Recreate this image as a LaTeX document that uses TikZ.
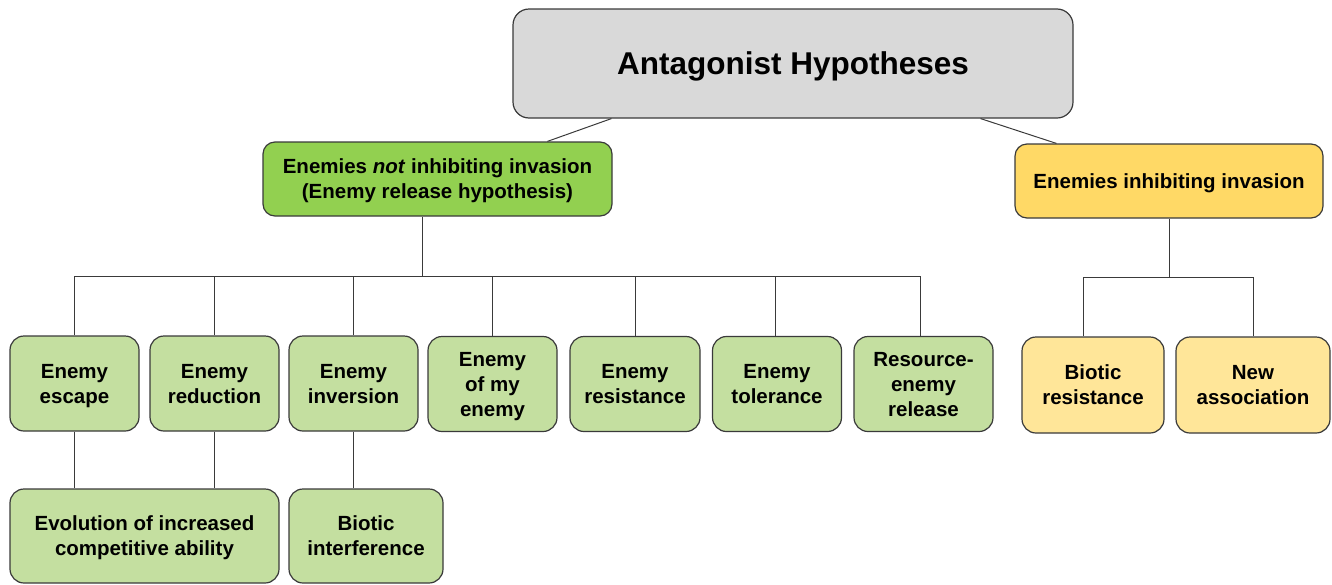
\documentclass[tikz,border=0pt]{standalone}
\usepackage{fontspec}
\setmainfont{Liberation Sans}
\definecolor{bord}{HTML}{3A3A3A}
\definecolor{linec}{HTML}{3A3A3A}
\definecolor{greyfill}{HTML}{D9D9D9}
\definecolor{topgreen}{HTML}{92D050}
\definecolor{leafgreen}{HTML}{C4DFA0}
\definecolor{topyellow}{HTML}{FFD966}
\definecolor{leafyellow}{HTML}{FFE699}
\begin{document}
\begin{tikzpicture}[x=1pt,y=-1pt,
  box/.style={draw=bord, line width=1.2pt, rounded corners=14pt, align=center, inner sep=0pt,
    text depth=0pt, font=\fontsize{20.5}{25}\selectfont\bfseries},
  gleaf/.style={box, fill=leafgreen, minimum width=129pt, minimum height=95pt},
  yleaf/.style={box, fill=leafyellow, minimum height=96pt},
  link/.style={draw=linec, line width=1pt}]
\useasboundingbox (0,0) rectangle (1332,584);

% top levels
\node[box, fill=greyfill, minimum width=560pt, minimum height=109pt, rounded corners=16pt,
  font=\fontsize{31.5}{36}\selectfont\bfseries] (title) at (793,63.5) {Antagonist Hypotheses};
\node[box, fill=topgreen, minimum width=349pt, minimum height=74pt, rounded corners=12pt] (green) at (437.5,179)
  {Enemies \textit{not} inhibiting invasion\\(Enemy release hypothesis)};
\node[box, fill=topyellow, minimum width=308pt, minimum height=74pt, rounded corners=12pt] (yellow) at (1169,181)
  {Enemies inhibiting invasion};

% green leaves
\node[gleaf] (escape) at (74.5,383.5) {Enemy\\escape};
\node[gleaf] (reduction) at (214.5,383.5) {Enemy\\reduction};
\node[gleaf] (inversion) at (353.5,383.5) {Enemy\\inversion};
\node[gleaf] (ofmy) at (492.5,384) {Enemy\\of my\\enemy};
\node[gleaf, minimum width=130pt] (resistance) at (635,384) {Enemy\\resistance};
\node[gleaf] (tolerance) at (777,384) {Enemy\\tolerance};
\node[gleaf, minimum width=139pt] (resource) at (923.5,384) {Resource-\\enemy\\release};

% lower green
\node[gleaf, minimum width=269pt, minimum height=94pt] (evolution) at (144.5,536)
  {Evolution of increased\\competitive ability};
\node[gleaf, minimum width=154pt, minimum height=94pt] (bint) at (366,536) {Biotic\\interference};

% yellow leaves
\node[yleaf, minimum width=142pt] (bres) at (1093,385) {Biotic\\resistance};
\node[yleaf, minimum width=154pt] (newassoc) at (1253,385) {New\\association};

% connectors
\draw[link] ([xshift=99pt]title.south west) -- ([xshift=285pt]green.north west);
\draw[link] ([xshift=-93pt]title.south east) -- ([xshift=42pt]yellow.north west);

\coordinate (bar) at (422,276);
\draw[link] (green.south -| bar) -- (bar);
\draw[link] (escape.north) |- (bar);
\draw[link] (reduction.north) |- (bar);
\draw[link] (inversion.north) |- (bar);
\draw[link] (ofmy.north) |- (bar);
\draw[link] (resistance.north) |- (bar);
\draw[link] ([xshift=-2pt]tolerance.north) |- (bar);
\draw[link] ([xshift=-3.5pt]resource.north) |- (bar);

\draw[link] (escape.south) -- (escape.south |- evolution.north);
\draw[link] (reduction.south) -- (reduction.south |- evolution.north);
\draw[link] (inversion.south) -- (inversion.south |- bint.north);

\coordinate (rbar) at (1169,277);
\draw[link] (yellow.south) -- (rbar);
\draw[link] ([xshift=-10pt]bres.north) |- (rbar);
\draw[link] (newassoc.north) |- (rbar);
\end{tikzpicture}
\end{document}
